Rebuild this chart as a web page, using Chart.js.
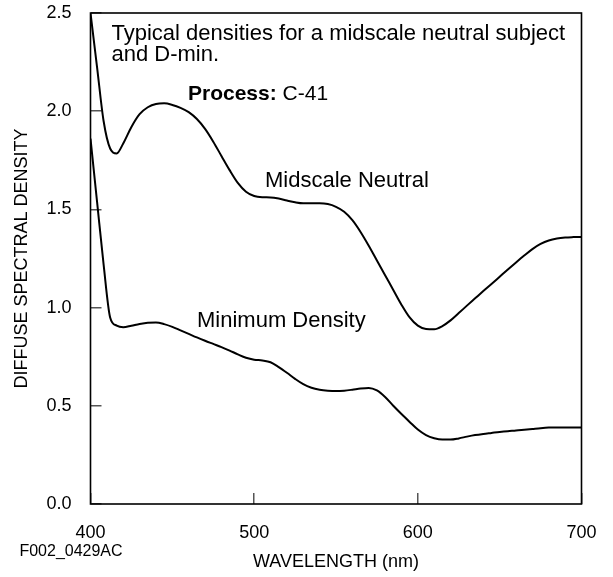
<!DOCTYPE html>
<html>
<head>
<meta charset="utf-8">
<script src="https://cdn.jsdelivr.net/npm/chart.js@4.4.1/dist/chart.umd.min.js"></script>
<style>
  html, body { margin: 0; padding: 0; background: #ffffff; }
  #wrap { width: 613px; height: 577px; }
</style>
</head>
<body>
<div id="wrap"><canvas id="c" width="613" height="577"></canvas></div>
<script>
const wavelengths = [400,404,408,412,416,420,425,430,435,440,445,450,455,460,465,470,475,480,485,490,495,500,505,510,515,520,525,530,535,540,545,550,555,560,565,570,575,580,585,590,595,600,605,610,615,620,625,630,635,640,645,650,655,660,665,670,675,680,685,690,695,700];

const midscaleNeutral = [2.50,2.225,1.95,1.81,1.785,1.836,1.92,1.985,2.02,2.037,2.04,2.032,2.017,1.995,1.96,1.91,1.845,1.772,1.70,1.635,1.59,1.568,1.562,1.561,1.555,1.545,1.536,1.531,1.531,1.531,1.527,1.513,1.488,1.445,1.385,1.315,1.24,1.165,1.09,1.015,0.95,0.908,0.891,0.89,0.906,0.935,0.972,1.01,1.047,1.084,1.12,1.157,1.194,1.23,1.265,1.298,1.324,1.342,1.352,1.357,1.359,1.36];

const minimumDensity = [1.86,1.54,1.22,0.95,0.908,0.90,0.908,0.917,0.923,0.924,0.916,0.902,0.884,0.866,0.848,0.831,0.815,0.799,0.781,0.762,0.745,0.735,0.731,0.722,0.697,0.668,0.637,0.61,0.592,0.582,0.577,0.575,0.577,0.582,0.588,0.591,0.578,0.545,0.50,0.458,0.418,0.379,0.351,0.335,0.328,0.328,0.334,0.343,0.351,0.357,0.362,0.367,0.371,0.374,0.378,0.382,0.386,0.389,0.39,0.39,0.39,0.39];

const xTicks = [400, 500, 600, 700];
const yTicks = [0.0, 0.5, 1.0, 1.5, 2.0, 2.5];

const xTitle = 'WAVELENGTH (nm)';
const yTitle = 'DIFFUSE SPECTRAL DENSITY';
const noteLine1 = 'Typical densities for a midscale neutral subject';
const noteLine2 = 'and D-min.';
const processLabel = 'Process:';
const processValue = 'C-41';
const seriesLabels = ['Midscale Neutral', 'Minimum Density'];
const figureId = 'F002_0429AC';

const FONT = "'Liberation Sans', Arial, Helvetica, sans-serif";

function toPoints(xs, ys) { return xs.map((x, i) => ({ x: x, y: ys[i] })); }

const annotationPlugin = {
  id: 'annotations',
  afterDraw(chart) {
    const ctx = chart.ctx;
    const a = chart.chartArea;
    ctx.save();
    ctx.strokeStyle = '#000';
    ctx.lineWidth = 1.6;
    ctx.strokeRect(a.left, a.top, a.right - a.left, a.bottom - a.top);
    ctx.fillStyle = '#000';
    ctx.textBaseline = 'alphabetic';
    ctx.textAlign = 'left';
    ctx.font = '22px ' + FONT;
    ctx.fillText(noteLine1, 111.5, 40);
    ctx.fillText(noteLine2, 111.5, 61);
    ctx.font = 'bold 21px ' + FONT;
    ctx.fillText(processLabel, 188, 100);
    const w = ctx.measureText(processLabel + ' ').width;
    ctx.font = '21px ' + FONT;
    ctx.fillText(processValue, 188 + w, 100);
    ctx.font = '22px ' + FONT;
    ctx.fillText(seriesLabels[0], 265, 187);
    ctx.fillText(seriesLabels[1], 197, 327);
    ctx.font = '16px ' + FONT;
    ctx.textAlign = 'center';
    ctx.textBaseline = 'middle';
    ctx.fillText(figureId, 71, 552);
    ctx.restore();
  }
};

function zeroPad(scale) {
  scale.paddingTop = 0; scale.paddingBottom = 0;
  scale.paddingLeft = 0; scale.paddingRight = 0;
}

new Chart(document.getElementById('c'), {
  type: 'line',
  data: {
    datasets: [
      {
        label: seriesLabels[0],
        data: toPoints(wavelengths, midscaleNeutral),
        borderColor: '#000',
        borderWidth: 2,
        pointRadius: 0,
        fill: false,
        cubicInterpolationMode: 'monotone'
      },
      {
        label: seriesLabels[1],
        data: toPoints(wavelengths, minimumDensity),
        borderColor: '#000',
        borderWidth: 2,
        pointRadius: 0,
        fill: false,
        cubicInterpolationMode: 'monotone'
      }
    ]
  },
  options: {
    responsive: false,
    animation: false,
    layout: { padding: { top: 13, right: 31.5, left: 0, bottom: 0 } },
    plugins: { legend: { display: false }, tooltip: { enabled: false } },
    scales: {
      x: {
        type: 'linear',
        min: 400, max: 700,
        afterBuildTicks(scale) { scale.ticks = xTicks.map(v => ({ value: v })); },
        afterFit(scale) { scale.height = 73; zeroPad(scale); },
        border: { display: false },
        grid: { drawOnChartArea: false, drawTicks: true, tickLength: -11, color: '#555', lineWidth: 1.5 },
        ticks: { color: '#000', font: { family: FONT, size: 18 }, padding: 29, maxRotation: 0, callback: v => String(v) },
        title: { display: true, text: xTitle, color: '#000', font: { family: FONT, size: 18 }, padding: { top: 0, bottom: 4.5 } }
      },
      y: {
        type: 'linear',
        min: 0, max: 2.5,
        afterBuildTicks(scale) { scale.ticks = yTicks.map(v => ({ value: v })); },
        afterFit(scale) { scale.width = 90.5; zeroPad(scale); },
        border: { display: false },
        grid: { drawOnChartArea: false, drawTicks: true, tickLength: -11, color: '#555', lineWidth: 1.5 },
        ticks: { color: '#000', font: { family: FONT, size: 18 }, padding: 30, callback: v => Number(v).toFixed(1) },
        title: { display: true, text: yTitle, color: '#000', font: { family: FONT, size: 18 }, padding: { top: 11, bottom: 0 } }
      }
    }
  },
  plugins: [annotationPlugin]
});
</script>
</body>
</html>
